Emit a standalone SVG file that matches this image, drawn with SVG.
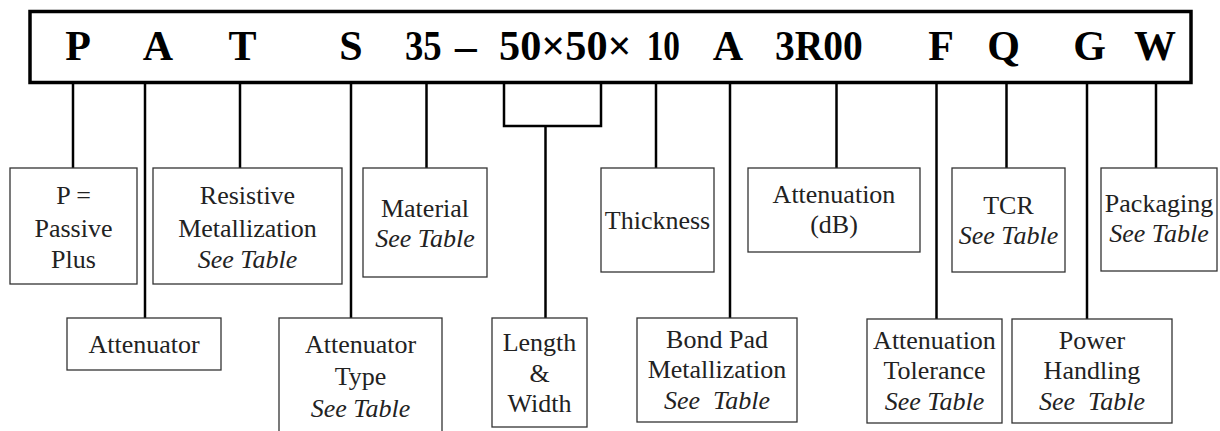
<svg xmlns="http://www.w3.org/2000/svg" width="1220" height="431" viewBox="0 0 1220 431">
<style>
.bar{fill:#fff;stroke:#000;stroke-width:3.5}
.code{font-family:"Liberation Serif","Times New Roman",serif;font-weight:bold;font-size:42px;fill:#000}
.box{fill:#fff;stroke:#333;stroke-width:1.3}
.lbl{font-family:"Liberation Serif","Times New Roman",serif;font-size:26px;fill:#222;text-anchor:middle}
.it{font-style:italic}
.con{fill:none;stroke:#000;stroke-width:2.5}
</style>
<rect width="1220" height="431" fill="#fff"/>
<g id="code-bar">
<rect class="bar" x="30" y="11.5" width="1161" height="71"/>
<text class="code" y="60" text-anchor="middle" x="78">P</text>
<text class="code" y="60" text-anchor="middle" x="158">A</text>
<text class="code" y="60" text-anchor="middle" x="242.5">T</text>
<text class="code" y="60" text-anchor="middle" x="351">S</text>
<text class="code" y="60" x="405" textLength="36.7" lengthAdjust="spacingAndGlyphs">35</text>
<text class="code" y="60" x="455" textLength="21.7" lengthAdjust="spacingAndGlyphs">–</text>
<text class="code" y="60" x="499" textLength="132.7" lengthAdjust="spacingAndGlyphs">50×50×</text>
<text class="code" y="60" x="646.7" textLength="33.3" lengthAdjust="spacingAndGlyphs">10</text>
<text class="code" y="60" text-anchor="middle" x="728">A</text>
<text class="code" y="60" x="775" textLength="87.7" lengthAdjust="spacingAndGlyphs">3R00</text>
<text class="code" y="60" text-anchor="middle" x="941">F</text>
<text class="code" y="60" text-anchor="middle" x="1003.7">Q</text>
<text class="code" y="60" text-anchor="middle" x="1089.5">G</text>
<text class="code" y="60" text-anchor="middle" x="1155">W</text>
</g>
<g id="connectors">
<path class="con" d="M73 83V168"/>
<path class="con" d="M145 83V318"/>
<path class="con" d="M240 83V168"/>
<path class="con" d="M351 83V318"/>
<path class="con" d="M426.5 83V168"/>
<path class="con" d="M504 83V126H601V83"/>
<path class="con" d="M545.5 126V318"/>
<path class="con" d="M656 83V168"/>
<path class="con" d="M730 83V318"/>
<path class="con" d="M836.5 83V168"/>
<path class="con" d="M936.5 83V319"/>
<path class="con" d="M1006.5 83V168"/>
<path class="con" d="M1087 83V319"/>
<path class="con" d="M1156 83V168"/>
</g>
<g id="n-passive">
<rect class="box" x="10" y="168" width="127" height="116"/>
<text class="lbl" x="73.5" y="204">P =</text>
<text class="lbl" x="73.5" y="236.7">Passive</text>
<text class="lbl" x="73.5" y="268.3">Plus</text>
</g>
<g id="n-attenuator">
<rect class="box" x="67" y="318" width="154" height="52"/>
<text class="lbl" x="144" y="353.3">Attenuator</text>
</g>
<g id="n-resistive">
<rect class="box" x="153" y="168" width="189" height="116"/>
<text class="lbl" x="247.5" y="204">Resistive</text>
<text class="lbl" x="247.5" y="236.7">Metallization</text>
<text class="lbl it" x="247.5" y="268.3">See Table</text>
</g>
<g id="n-type">
<rect class="box" x="279" y="318" width="163" height="130"/>
<text class="lbl" x="360.5" y="353.3">Attenuator</text>
<text class="lbl" x="360.5" y="385">Type</text>
<text class="lbl it" x="360.5" y="416.7">See Table</text>
</g>
<g id="n-material">
<rect class="box" x="363" y="168" width="124" height="109"/>
<text class="lbl" x="425" y="216.7">Material</text>
<text class="lbl it" x="425" y="246.7">See Table</text>
</g>
<g id="n-length">
<rect class="box" x="492" y="318" width="95" height="109"/>
<text class="lbl" x="539.5" y="350.7">Length</text>
<text class="lbl" x="539.5" y="381.7">&amp;</text>
<text class="lbl" x="539.5" y="411.7">Width</text>
</g>
<g id="n-thickness">
<rect class="box" x="601" y="168" width="113" height="104"/>
<text class="lbl" x="657.5" y="229.3">Thickness</text>
</g>
<g id="n-bondpad">
<rect class="box" x="637" y="318" width="160" height="104"/>
<text class="lbl" x="717" y="348.3">Bond Pad</text>
<text class="lbl" x="717" y="378.3">Metallization</text>
<text class="lbl it" x="717" y="409.3" xml:space="preserve">See  Table</text>
</g>
<g id="n-attenuation">
<rect class="box" x="748" y="168" width="172" height="84"/>
<text class="lbl" x="834" y="203.3">Attenuation</text>
<text class="lbl" x="834" y="233.3">(dB)</text>
</g>
<g id="n-tolerance">
<rect class="box" x="867" y="319" width="135" height="104"/>
<text class="lbl" x="934.5" y="349.3">Attenuation</text>
<text class="lbl" x="934.5" y="379.3">Tolerance</text>
<text class="lbl it" x="934.5" y="410">See Table</text>
</g>
<g id="n-tcr">
<rect class="box" x="952" y="168" width="113" height="104"/>
<text class="lbl" x="1008.5" y="214">TCR</text>
<text class="lbl it" x="1008.5" y="244">See Table</text>
</g>
<g id="n-power">
<rect class="box" x="1012" y="319" width="160" height="104"/>
<text class="lbl" x="1092" y="349.3">Power</text>
<text class="lbl" x="1092" y="379.3">Handling</text>
<text class="lbl it" x="1092" y="410" xml:space="preserve">See  Table</text>
</g>
<g id="n-packaging">
<rect class="box" x="1101" y="168" width="116" height="103"/>
<text class="lbl" x="1159" y="211.7">Packaging</text>
<text class="lbl it" x="1159" y="241.7">See Table</text>
</g>
</svg>
